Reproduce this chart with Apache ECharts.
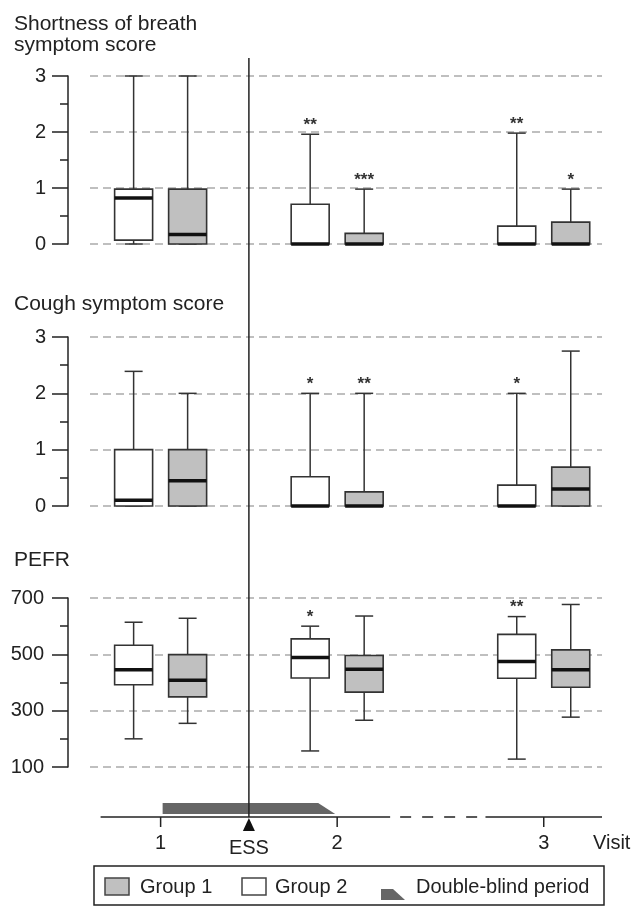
<!DOCTYPE html>
<html><head><meta charset="utf-8">
<script src="https://cdn.jsdelivr.net/npm/echarts@6/dist/echarts.min.js"></script>
<style>html,body{margin:0;padding:0;background:#fff}#c{width:637px;height:907px}</style>
</head><body><div id="c"></div>
<script>
// ---- timeline (schematic visit positions) ----
const visitPos = [1, 2, 3.17];
const visitLabels = ['1', '2', '3'];
const essPos = 1.5;
const timelineStart = 0.66;
const timelineBreak = [2.3, 2.84];
const blindPeriod = [1, 2];

// ---- box data: [min, Q1, median, Q3, max] per visit ----
const sobGroup2 = [[0, 0.07, 0.82, 0.98, 3], [0, 0, 0, 0.71, 1.96], [0, 0, 0, 0.32, 1.98]];
const sobGroup1 = [[0, 0, 0.17, 0.98, 3], [0, 0, 0, 0.19, 0.98], [0, 0, 0, 0.39, 0.98]];
const sobSigGroup2 = ['', '**', '**'];
const sobSigGroup1 = ['', '***', '*'];

const coughGroup2 = [[0, 0, 0.1, 1, 2.39], [0, 0, 0, 0.52, 2], [0, 0, 0, 0.37, 2]];
const coughGroup1 = [[0, 0, 0.45, 1, 2], [0, 0, 0, 0.25, 2], [0, 0, 0.3, 0.69, 2.75]];
const coughSigGroup2 = ['', '*', '*'];
const coughSigGroup1 = ['', '**', ''];

const pefrGroup2 = [[200, 392, 445, 532, 614], [157, 416, 489, 555, 600], [128, 415, 475, 571, 634]];
const pefrGroup1 = [[255, 349, 408, 499, 628], [266, 366, 447, 496, 636], [277, 383, 445, 516, 677]];
const pefrSigGroup2 = ['', '*', '**'];
const pefrSigGroup1 = ['', '', ''];

const panelTitles = ['Shortness of breath\nsymptom score', 'Cough symptom score', 'PEFR'];
const scoreAxis = {min: 0, max: 3, interval: 1};
const pefrAxis = {min: 100, max: 700, interval: 200};
const legendLabels = ['Group 1', 'Group 2', 'Double-blind period'];

// ---- rendering ----
const FONT = "'Liberation Sans', Arial, sans-serif";
const INK = '#222';
const GRAY = '#c0c0c0';

function boxRender(side, fill, sigs) {
  return function (params, api) {
    const x = api.value(0);
    const v = [1, 2, 3, 4, 5].map(i => api.value(i));
    const px = api.coord([x, v[0]])[0] + side * 27;
    const y = v.map(val => api.coord([x, val])[1]);
    const hw = 19, cap = 9;
    const ls = {stroke: '#333', lineWidth: 1.5};
    const children = [
      {type: 'line', shape: {x1: px, y1: y[4], x2: px, y2: y[3]}, style: ls},
      {type: 'line', shape: {x1: px, y1: y[1], x2: px, y2: y[0]}, style: ls},
      {type: 'line', shape: {x1: px - cap, y1: y[4], x2: px + cap, y2: y[4]}, style: ls},
      {type: 'line', shape: {x1: px - cap, y1: y[0], x2: px + cap, y2: y[0]}, style: ls},
      {type: 'rect', shape: {x: px - hw, y: y[3], width: 2 * hw, height: y[1] - y[3]},
        style: {fill: fill, stroke: '#333', lineWidth: 1.6}},
      {type: 'line', shape: {x1: px - hw, y1: y[2], x2: px + hw, y2: y[2]},
        style: {stroke: '#111', lineWidth: 3.5}}
    ];
    const sig = sigs[params.dataIndex];
    if (sig) {
      children.push({type: 'text', style: {text: sig, x: px, y: y[4] - 9, textAlign: 'center',
        textVerticalAlign: 'middle', fontSize: 17, fontWeight: 'bold', fontFamily: FONT, fill: '#333'}});
    }
    return {type: 'group', children: children};
  };
}

function toData(arr) { return arr.map((b, i) => [visitPos[i]].concat(b)); }

function timelineRender(params, api) {
  const top = api.coord([essPos, 1]);
  const ess = api.coord([essPos, 0]);
  const axisY = ess[1];
  const px = v => api.coord([v, 0])[0];
  const line = {stroke: INK, lineWidth: 1.5};
  const children = [];
  // double-blind band
  const b0 = px(blindPeriod[0]) + 2, b1 = px(blindPeriod[1]) - 2;
  children.push({type: 'polygon', shape: {points: [[b0, axisY - 14], [b1 - 17, axisY - 14], [b1, axisY - 3], [b0, axisY - 3]]},
    style: {fill: '#666'}});
  // axis with break
  children.push({type: 'line', shape: {x1: px(timelineStart), y1: axisY, x2: px(timelineBreak[0]), y2: axisY}, style: line});
  children.push({type: 'line', shape: {x1: px(timelineBreak[0]), y1: axisY, x2: px(timelineBreak[1]), y2: axisY},
    style: {stroke: INK, lineWidth: 1.5, lineDash: [11, 11], lineDashOffset: -10}});
  children.push({type: 'line', shape: {x1: px(timelineBreak[1]), y1: axisY, x2: px(3.5), y2: axisY}, style: line});
  visitPos.forEach((v, i) => {
    const x = px(v);
    children.push({type: 'line', shape: {x1: x, y1: axisY, x2: x, y2: axisY + 10}, style: line});
    children.push({type: 'text', style: {text: visitLabels[i], x: x, y: axisY + 26, textAlign: 'center',
      textVerticalAlign: 'middle', fontSize: 20, fontFamily: FONT, fill: INK}});
  });
  children.push({type: 'text', style: {text: 'Visit', x: px(3.5) - 9, y: axisY + 26, textAlign: 'left',
    textVerticalAlign: 'middle', fontSize: 20, fontFamily: FONT, fill: INK}});
  // ESS vertical line + marker
  children.push({type: 'line', shape: {x1: ess[0], y1: top[1], x2: ess[0], y2: axisY}, style: line});
  children.push({type: 'polygon', shape: {points: [[ess[0], axisY + 1], [ess[0] + 6, axisY + 14], [ess[0] - 6, axisY + 14]]},
    style: {fill: '#111'}});
  children.push({type: 'text', style: {text: 'ESS', x: ess[0], y: axisY + 31, textAlign: 'center',
    textVerticalAlign: 'middle', fontSize: 20, fontFamily: FONT, fill: INK}});
  return {type: 'group', children: children};
}

const gridTops = [76, 337, 598];
const gridHeights = [168, 169, 169];
const axisDefs = [scoreAxis, scoreAxis, pefrAxis];
const labelMargins = [22, 22, 24];
const titleTops = [14, 294, 550];

const grids = gridTops.map((t, i) => ({left: 90, right: 35, top: t, height: gridHeights[i]}));
grids.push({left: 90, right: 35, top: 58, bottom: 90});

const xAxes = grids.map((g, i) => ({type: 'value', gridIndex: i, min: 0.6, max: 3.5, show: false}));
const yAxes = axisDefs.map((a, i) => ({
  type: 'value', gridIndex: i, min: a.min, max: a.max, interval: a.interval, offset: 22,
  axisLine: {show: true, lineStyle: {color: INK, width: 1.5}},
  axisTick: {show: true, length: 16, lineStyle: {color: INK, width: 1.5}},
  minorTick: {show: true, splitNumber: 2, length: 8, lineStyle: {color: INK, width: 1.5}},
  axisLabel: {fontSize: 20, color: INK, fontFamily: FONT, margin: labelMargins[i]},
  splitLine: {show: true, lineStyle: {color: '#aaa', width: 1.5, type: [8, 5]}}
}));
yAxes.push({type: 'value', gridIndex: 3, min: 0, max: 1, show: false});

const panels = [
  [sobGroup2, sobGroup1, sobSigGroup2, sobSigGroup1],
  [coughGroup2, coughGroup1, coughSigGroup2, coughSigGroup1],
  [pefrGroup2, pefrGroup1, pefrSigGroup2, pefrSigGroup1]
];
const series = [];
panels.forEach((p, i) => {
  series.push({name: 'Group 2', type: 'custom', xAxisIndex: i, yAxisIndex: i, data: toData(p[0]),
    encode: {x: 0, y: [1, 2, 3, 4, 5]}, renderItem: boxRender(-1, '#fff', p[2]), silent: true});
  series.push({name: 'Group 1', type: 'custom', xAxisIndex: i, yAxisIndex: i, data: toData(p[1]),
    encode: {x: 0, y: [1, 2, 3, 4, 5]}, renderItem: boxRender(1, GRAY, p[3]), silent: true});
});
series.push({name: 'timeline', type: 'custom', xAxisIndex: 3, yAxisIndex: 3, data: [[essPos, 0]],
  encode: {x: 0, y: 1}, renderItem: timelineRender, silent: true, z: 5});

const txt = (t, x, y) => ({type: 'text', style: {text: t, x: x, y: y, textVerticalAlign: 'middle',
  fontSize: 20, fontFamily: FONT, fill: INK}});

const option = {
  animation: false,
  backgroundColor: '#fff',
  title: panelTitles.map((t, i) => ({text: t, left: 14, top: titleTops[i], padding: 0,
    textStyle: {fontSize: 21, fontWeight: 'normal', color: INK, fontFamily: FONT, lineHeight: 21}})),
  grid: grids, xAxis: xAxes, yAxis: yAxes, series: series,
  graphic: [
    {type: 'rect', shape: {x: 94, y: 866, width: 510, height: 39}, style: {fill: 'none', stroke: INK, lineWidth: 1.5}},
    {type: 'rect', shape: {x: 105, y: 878, width: 24, height: 17}, style: {fill: GRAY, stroke: '#444', lineWidth: 1.5}},
    txt(legendLabels[0], 140, 887),
    {type: 'rect', shape: {x: 242, y: 878, width: 24, height: 17}, style: {fill: '#fff', stroke: '#444', lineWidth: 1.5}},
    txt(legendLabels[1], 275, 887),
    {type: 'polygon', shape: {points: [[381, 889], [393, 889], [405, 900], [381, 900]]}, style: {fill: '#666'}},
    txt(legendLabels[2], 416, 887)
  ]
};
echarts.init(document.getElementById('c')).setOption(option);
</script></body></html>
